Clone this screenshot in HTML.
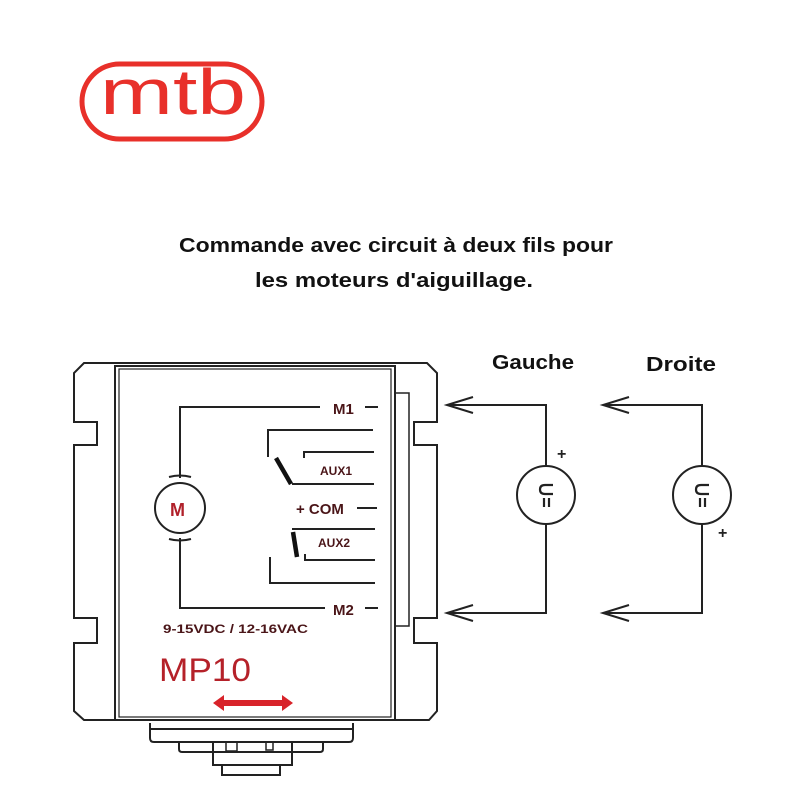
<!DOCTYPE html>
<html><head><meta charset="utf-8"><style>html,body{margin:0;padding:0;background:#fff}svg{display:block}</style></head>
<body>
<svg width="800" height="800" viewBox="0 0 800 800" xmlns="http://www.w3.org/2000/svg">
<!-- logo -->
<rect x="82" y="64" width="180" height="75" rx="37.5" fill="none" stroke="#e8302a" stroke-width="5"/>
<text x="100" y="114" font-family="Liberation Sans, sans-serif" font-size="64" fill="#e8302a" textLength="146" lengthAdjust="spacingAndGlyphs">mtb</text>
<!-- title -->
<g font-family="Liberation Sans, sans-serif" font-weight="bold" font-size="20" fill="#111" text-anchor="middle">
<text x="396" y="252" textLength="434" lengthAdjust="spacingAndGlyphs">Commande avec circuit à deux fils pour</text>
<text x="394" y="287" textLength="278" lengthAdjust="spacingAndGlyphs">les moteurs d'aiguillage.</text>
<text x="533" y="369" textLength="82" lengthAdjust="spacingAndGlyphs">Gauche</text>
<text x="681" y="371" textLength="70" lengthAdjust="spacingAndGlyphs">Droite</text>
</g>
<g fill="none" stroke="#222" stroke-width="2">
<!-- outer body -->
<path d="M84,363 H427 L437,373 V422 H414 V445 H437 V618 H414 V643 H437 V711 L429,720 H84 L74,711 V643 H97 V618 H74 V445 H97 V422 H74 V373 Z"/>
<rect x="115" y="366" width="280" height="354"/>
<rect x="119" y="369" width="272" height="348" stroke-width="1.2"/>
<rect x="395" y="393" width="14" height="233" stroke-width="1.5"/>
<!-- bottom connector -->
<path d="M150,723 V738 Q150,742 154,742 H349 Q353,742 353,738 V723"/>
<line x1="150" y1="729" x2="353" y2="729"/>
<path d="M179,742 V749 Q179,752 182,752 H320 Q323,752 323,749 V742"/>
<path d="M213,742 V765 H292 V742"/>
<path d="M222,765 V775 H280 V765"/>
<path d="M226,742 V751 H237 V742" stroke-width="1.5"/>
<path d="M266,742 V750 H273 V742" stroke-width="1.5"/>
<!-- internal wiring -->
<path d="M320,407 H180 V478"/>
<path d="M180,538 V608 H325"/>
<line x1="365" y1="407" x2="378" y2="407"/>
<line x1="365" y1="608" x2="378" y2="608"/>
<line x1="357" y1="508" x2="377" y2="508"/>
<circle cx="180" cy="508" r="25"/>
<path d="M169,477 Q180,474 191,477"/>
<path d="M169,539 Q180,542 191,539"/>
<path d="M268,457 V430 H373"/>
<path d="M304,458 V452 H374"/>
<line x1="292" y1="484" x2="374" y2="484"/>
<line x1="292" y1="529" x2="375" y2="529"/>
<path d="M305,554 V560 H375"/>
<path d="M270,557 V583 H375"/>
<!-- right circuits -->
<path d="M447,405 H546 V466"/>
<path d="M546,524 V613 H447"/>
<path d="M473,397 L447,405 L473,413"/>
<path d="M473,605 L447,613 L473,621"/>
<circle cx="546" cy="495" r="29"/>
<path d="M603,405 H702 V466"/>
<path d="M702,524 V613 H603"/>
<path d="M629,397 L603,405 L629,413"/>
<path d="M629,605 L603,613 L629,621"/>
<circle cx="702" cy="495" r="29"/>
</g>
<g stroke="#111" stroke-width="4.5" fill="none">
<line x1="276" y1="458" x2="291" y2="484"/>
<line x1="293" y1="532" x2="297" y2="557"/>
</g>
<!-- U= symbols -->
<g stroke="#222" stroke-width="2.2" fill="none">
<path d="M553,485 H545 Q540,485 540,489.5 Q540,494 545,494 H553"/>
<line x1="544" y1="498" x2="544" y2="507"/><line x1="549" y1="498" x2="549" y2="507"/>
<path d="M709,485 H701 Q696,485 696,489.5 Q696,494 701,494 H709"/>
<line x1="700" y1="498" x2="700" y2="507"/><line x1="705" y1="498" x2="705" y2="507"/>
</g>
<g font-family="Liberation Sans, sans-serif" font-weight="bold" fill="#222" font-size="16">
<text x="557" y="459">+</text>
<text x="718" y="538">+</text>
</g>
<!-- device labels -->
<g font-family="Liberation Sans, sans-serif" font-weight="bold" fill="#4a1518">
<text x="333" y="414" font-size="15">M1</text>
<text x="333" y="615" font-size="15">M2</text>
<text x="296" y="514" font-size="15">+ COM</text>
<text x="320" y="475" font-size="12">AUX1</text>
<text x="318" y="547" font-size="12">AUX2</text>
<text x="163" y="633" font-size="12" textLength="145" lengthAdjust="spacingAndGlyphs">9-15VDC / 12-16VAC</text>
<text x="170" y="516" font-size="18" fill="#b0202a">M</text>
</g>
<text x="159" y="681" font-family="Liberation Sans, sans-serif" font-size="32" fill="#b52129" textLength="92" lengthAdjust="spacingAndGlyphs">MP10</text>
<!-- red arrow -->
<path d="M213,703 L224,695 V700 H282 V695 L293,703 L282,711 V706 H224 V711 Z" fill="#d8232a"/>
</svg>
</body></html>
